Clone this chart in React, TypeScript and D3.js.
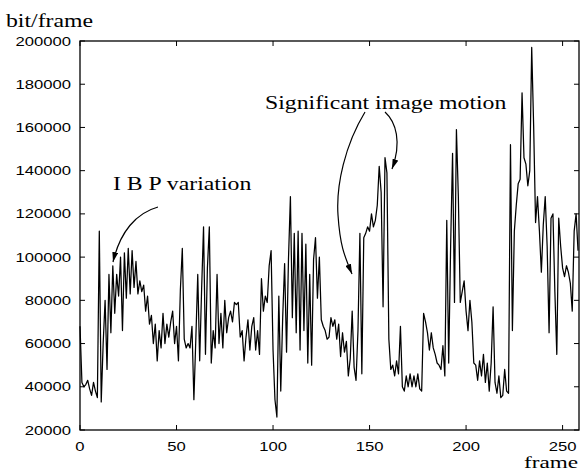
import React from "react";
import * as d3 from "d3";

// frame index 0..258, bits per frame
const bitsPerFrame: number[] = [
  68000, 42000, 40000, 41000, 43000, 39000, 36000, 42000, 38000, 35000,
  112000, 33000, 60000, 80000, 48000, 92000, 65000, 96000, 74000, 92000,
  82000, 100000, 66000, 102000, 81000, 104000, 83000, 103000, 86000, 98000,
  83000, 89000, 84000, 87000, 75000, 82000, 69000, 73000, 60000, 69000,
  52000, 66000, 58000, 74000, 60000, 69000, 63000, 70000, 75000, 60000,
  68000, 52000, 85000, 104000, 62000, 58000, 60000, 58000, 68000, 34000,
  62000, 92000, 52000, 85000, 114000, 55000, 95000, 114000, 51000, 66000,
  58000, 92000, 60000, 74000, 58000, 80000, 65000, 72000, 75000, 70000,
  79000, 78000, 79000, 63000, 66000, 52000, 63000, 71000, 57000, 68000,
  72000, 57000, 66000, 55000, 90000, 75000, 82000, 79000, 96000, 103000,
  57000, 34000, 26000, 82000, 38000, 72000, 97000, 56000, 99000, 128000,
  72000, 111000, 65000, 112000, 57000, 111000, 66000, 106000, 51000, 92000,
  50000, 99000, 109000, 81000, 100000, 71000, 68000, 66000, 62000, 63000,
  72000, 68000, 71000, 62000, 69000, 54000, 65000, 56000, 61000, 45000,
  53000, 75000, 49000, 43000, 66000, 111000, 46000, 109000, 111000, 114000,
  112000, 120000, 114000, 117000, 124000, 142000, 130000, 77000, 146000, 139000,
  62000, 48000, 50000, 45000, 52000, 46000, 68000, 40000, 38000, 45000,
  40000, 46000, 40000, 45000, 40000, 46000, 39000, 38000, 74000, 70000,
  65000, 57000, 65000, 58000, 55000, 51000, 50000, 48000, 59000, 45000,
  117000, 51000, 105000, 148000, 79000, 159000, 128000, 79000, 84000, 89000,
  75000, 66000, 80000, 70000, 51000, 50000, 43000, 52000, 45000, 55000,
  42000, 51000, 38000, 51000, 77000, 42000, 37000, 45000, 35000, 36000,
  48000, 38000, 37000, 152000, 66000, 112000, 124000, 134000, 136000, 176000,
  146000, 143000, 133000, 140000, 197000, 161000, 116000, 128000, 112000, 93000,
  115000, 128000, 105000, 65000, 118000, 120000, 84000, 55000, 118000, 105000,
  95000, 91000, 96000, 93000, 88000, 75000, 112000, 120000, 103000,
];

const yTicks: number[] = [20000, 40000, 60000, 80000, 100000, 120000, 140000, 160000, 180000, 200000];
const xTicks: number[] = [0, 50, 100, 150, 200, 250];

const yLabel = "bit/frame";
const xLabel = "frame";
const note1 = "I B P variation";
const note2 = "Significant image motion";

const W = 582;
const H = 472;
const L = 80, R = 579, T = 41, B = 430;

const SANS = "'Liberation Sans', Arial, Helvetica, sans-serif";
const SERIF = "'Liberation Serif', 'Times New Roman', Times, serif";

function Txt(props: { x: number; y: number; anchor?: string; size: number; family: string; sx?: number; children: React.ReactNode }) {
  const { x, y, anchor = "start", size, family, sx = 1.25, children } = props;
  return (
    <text
      transform={`translate(${x},${y}) scale(${sx},1)`}
      textAnchor={anchor as any}
      fontSize={size}
      fontFamily={family}
      fill="#000"
    >
      {children}
    </text>
  );
}

export default function App() {
  const x = d3.scaleLinear().domain([0, 258.5]).range([L, R]);
  const y = d3.scaleLinear().domain([20000, 200000]).range([B, T]);
  const line = d3
    .line<number>()
    .x((_, i) => x(i))
    .y((d) => y(d));
  const tick = 5;

  return (
    <svg
      width={W}
      height={H}
      style={{ position: "absolute", left: 0, top: 0, background: "#fff" }}
      viewBox={`0 0 ${W} ${H}`}
    >
      <defs>
        <marker id="ah" viewBox="0 0 10 6" refX="10" refY="3" markerWidth="10" markerHeight="6" markerUnits="userSpaceOnUse" orient="auto">
          <path d="M0,0 L10,3 L0,6 Z" fill="#000" />
        </marker>
      </defs>
      <rect x={0} y={0} width={W} height={H} fill="#fff" />

      {/* frame */}
      <rect x={L} y={T} width={R - L} height={B - T} fill="none" stroke="#000" strokeWidth={1.3} />

      {/* y ticks */}
      {yTicks.map((v) => (
        <g key={"y" + v}>
          <line x1={L} x2={L + tick} y1={y(v)} y2={y(v)} stroke="#000" strokeWidth={1} />
          <line x1={R} x2={R - tick} y1={y(v)} y2={y(v)} stroke="#000" strokeWidth={1} />
          <Txt x={71} y={y(v) + 4.6} anchor="end" size={13} family={SANS} sx={1.28}>
            {v}
          </Txt>
        </g>
      ))}

      {/* x ticks */}
      {xTicks.map((v) => (
        <g key={"x" + v}>
          <line x1={x(v)} x2={x(v)} y1={B} y2={B - tick} stroke="#000" strokeWidth={1} />
          <line x1={x(v)} x2={x(v)} y1={T} y2={T + tick} stroke="#000" strokeWidth={1} />
          <Txt x={x(v)} y={450.5} anchor="middle" size={13} family={SANS} sx={1.28}>
            {v}
          </Txt>
        </g>
      ))}

      {/* data */}
      <path d={line(bitsPerFrame) || ""} fill="none" stroke="#000" strokeWidth={1.25} strokeLinejoin="round" />

      {/* axis labels */}
      <Txt x={6} y={27} size={19} family={SERIF}>{yLabel}</Txt>
      <Txt x={578} y={468} anchor="end" size={16} family={SERIF} sx={1.45}>{xLabel}</Txt>

      {/* annotations */}
      <Txt x={113} y={190} size={19} family={SERIF}>{note1}</Txt>
      <Txt x={265} y={109} size={19} family={SERIF}>{note2}</Txt>

      <path d="M 158 207 C 136 213, 120 232, 113 262" fill="none" stroke="#000" strokeWidth={1.2} markerEnd="url(#ah)" />
      <path d="M 365 112 C 345 145, 336 185, 338 215 S 344 255, 352 274" fill="none" stroke="#000" strokeWidth={1.2} markerEnd="url(#ah)" />
      <path d="M 385 112 C 396 122, 402 142, 392 169" fill="none" stroke="#000" strokeWidth={1.2} markerEnd="url(#ah)" />
    </svg>
  );
}
